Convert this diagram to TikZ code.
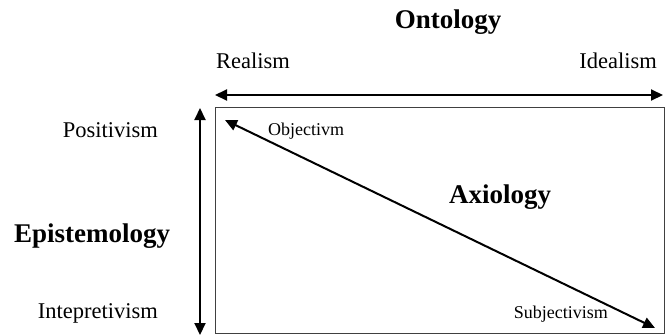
\documentclass[tikz,border=0pt]{standalone}
\usepackage{fontspec}
\setmainfont{Liberation Serif}
\usetikzlibrary{arrows.meta}
\tikzset{
  big/.style={font=\fontsize{27}{30}\selectfont\bfseries, inner sep=0pt},
  mid/.style={font=\fontsize{22.5}{26}\selectfont, inner sep=0pt},
  small/.style={font=\fontsize{18}{21}\selectfont, inner sep=0pt},
  arr/.style={line width=2pt, {Triangle[length=12pt,width=11pt]}-{Triangle[length=12pt,width=11pt]}},
  frame/.style={draw=black!75, line width=1.2pt, inner sep=0pt}
}
\begin{document}
\begin{tikzpicture}[x=1pt,y=-1pt]
\useasboundingbox (0,0) rectangle (666,335);
\node[frame, minimum width=449pt, minimum height=226pt, anchor=north west] (box) at (214.5,107) {};
\node[big, anchor=base] (onto) at (448,28) {Ontology};
\node[mid, anchor=base west] (real) at (216,68) {Realism};
\node[mid, anchor=base east] (ideal) at (657,68) {Idealism};
\node[mid, anchor=base east] (pos) at (158,137) {Positivism};
\node[big, anchor=base west] (epi) at (14,242) {Epistemology};
\node[mid, anchor=base east] (int) at (158,318) {Intepretivism};
\node[small, anchor=base west] (obj) at (268,135) {Objectivm};
\node[big, anchor=base] (axi) at (500,203) {Axiology};
\node[small, anchor=base east] (sub) at (608,318) {Subjectivism};
\coordinate (hl) at (215,95);
\coordinate (hr) at (663,95);
\coordinate (vt) at (200,108);
\coordinate (vb) at (200,335);
\coordinate (dt) at (225,120);
\coordinate (db) at (655,328);
\draw[arr] (hl) -- (hr);
\draw[arr] (vt) -- (vb);
\draw[arr] (dt) -- (db);
\end{tikzpicture}
\end{document}
